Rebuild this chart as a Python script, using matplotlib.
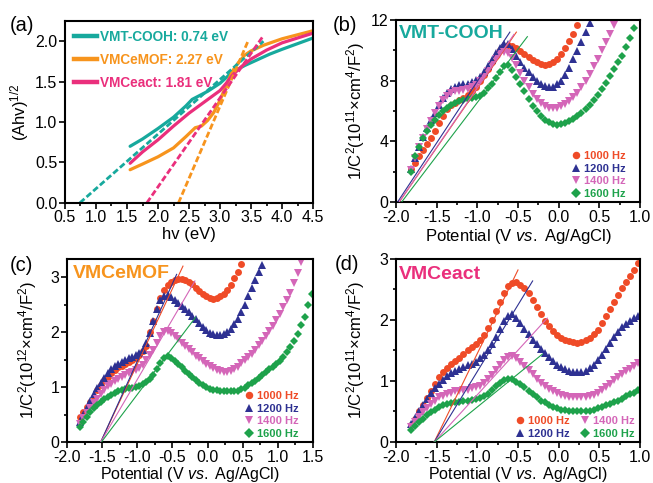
import numpy as np
import matplotlib
matplotlib.use("Agg")
import matplotlib.pyplot as plt
from matplotlib.lines import Line2D
from matplotlib.ticker import MultipleLocator

plt.rcParams['font.family'] = ['Liberation Sans', 'DejaVu Sans']
plt.rcParams['mathtext.fontset'] = 'custom'
plt.rcParams['mathtext.rm'] = 'Liberation Sans'
plt.rcParams['mathtext.it'] = 'Liberation Sans:italic'
plt.rcParams['mathtext.bf'] = 'Liberation Sans:bold'
plt.rcParams['axes.unicode_minus'] = False

# ---------------- panel (a) data ----------------
hv_cooh = [1.55, 1.75, 2.0, 2.25, 2.45, 2.55, 2.65, 2.8, 3.0, 3.2, 3.4, 3.6, 3.8, 4.0, 4.25, 4.5]
ahv_cooh = [0.70, 0.79, 0.92, 1.06, 1.20, 1.28, 1.32, 1.38, 1.48, 1.62, 1.70, 1.77, 1.84, 1.90, 1.97, 2.04]
hv_mof = [1.55, 1.75, 2.0, 2.25, 2.45, 2.6, 2.7, 2.8, 2.9, 3.0, 3.1, 3.2, 3.3, 3.4, 3.5, 3.7, 4.0, 4.25, 4.5]
ahv_mof = [0.41, 0.48, 0.57, 0.68, 0.82, 0.93, 0.95, 1.02, 1.12, 1.27, 1.46, 1.63, 1.74, 1.83, 1.88, 1.95, 2.03, 2.08, 2.13]
hv_act = [1.55, 1.75, 2.0, 2.25, 2.5, 2.75, 3.0, 3.1, 3.2, 3.35, 3.5, 3.75, 4.0, 4.25, 4.5]
ahv_act = [0.49, 0.63, 0.78, 0.95, 1.11, 1.25, 1.39, 1.48, 1.58, 1.69, 1.78, 1.89, 1.98, 2.04, 2.10]
fit_cooh_hv, fit_cooh_y = [0.74, 3.70], [0.0, 2.0]
fit_mof_hv, fit_mof_y = [2.33, 3.45], [0.0, 2.0]
fit_act_hv, fit_act_y = [1.82, 3.70], [0.0, 2.07]
gap_labels = ["VMT-COOH: 0.74 eV", "VMCeMOF: 2.27 eV", "VMCeact: 1.81 eV"]

# ---------------- Mott-Schottky data (potential grid start / step) ----------------
pot_start = -1.82
pot_step = 0.05
freq_labels = ["1000 Hz", "1200 Hz", "1400 Hz", "1600 Hz"]

b_1000 = [2.2, 2.6, 3.0, 3.4, 3.8, 4.2, 4.65, 5.2, 5.7, 6.1, 6.4, 6.55, 6.7, 6.85, 7.05, 7.3, 7.6, 8.0, 8.4, 8.8,
          9.25, 9.65, 10.0, 10.2, 10.35, 10.3, 10.15, 9.95, 9.75, 9.55, 9.35, 9.2, 9.1, 9.05, 9.1, 9.2, 9.4, 9.75,
          10.15, 10.6, 11.1, 11.7]
b_1200 = [2.2, 2.9, 3.6, 4.3, 4.9, 5.4, 5.9, 6.4, 6.85, 7.2, 7.45, 7.6, 7.7, 7.75, 7.8, 7.9, 8.05, 8.25, 8.55, 8.95,
          9.35, 9.8, 10.15, 10.4, 10.4, 10.1, 9.6, 9.2, 8.85, 8.55, 8.25, 8.0, 7.8, 7.65, 7.58, 7.6, 7.75, 8.0, 8.4,
          8.85, 9.4, 9.95, 10.55, 11.2, 11.8]
b_1400 = [2.1, 2.9, 3.6, 4.2, 4.8, 5.35, 5.85, 6.3, 6.7, 7.0, 7.2, 7.3, 7.35, 7.4, 7.45, 7.55, 7.7, 7.95, 8.25, 8.65,
          9.05, 9.45, 9.75, 9.9, 9.85, 9.5, 9.0, 8.5, 8.0, 7.55, 7.15, 6.8, 6.5, 6.3, 6.2, 6.17, 6.2, 6.3, 6.45, 6.65,
          6.9, 7.2, 7.55, 8.0, 8.45, 8.95, 9.45, 10.0, 10.55, 11.1, 11.7]
b_1600 = [2.0, 3.0, 3.6, 4.2, 4.65, 5.1, 5.4, 5.75, 6.0, 6.2, 6.4, 6.55, 6.65, 6.72, 6.78, 6.85, 6.92, 7.0, 7.2, 7.5,
          7.8, 8.2, 8.6, 8.95, 9.0, 8.7, 8.25, 7.8, 7.3, 6.8, 6.35, 6.0, 5.65, 5.4, 5.25, 5.12, 5.08, 5.12, 5.22, 5.35,
          5.5, 5.65, 5.85, 6.1, 6.4, 6.7, 7.05, 7.45, 7.85, 8.3, 8.75, 9.2, 9.65, 10.2, 10.8, 11.5]

c_1000 = [0.45, 0.55, 0.63, 0.72, 0.82, 0.94, 1.04, 1.12, 1.19, 1.25, 1.31, 1.36, 1.39, 1.42, 1.45, 1.49, 1.53, 1.59,
          1.66, 1.75, 2.0, 2.2, 2.42, 2.62, 2.76, 2.85, 2.91, 2.94, 2.96, 2.96, 2.94, 2.91, 2.87, 2.81, 2.75, 2.70,
          2.65, 2.62, 2.61, 2.62, 2.65, 2.70, 2.77, 2.86, 2.98, 3.1, 3.24]
c_1200 = [0.37, 0.5, 0.62, 0.75, 0.87, 0.98, 1.08, 1.17, 1.25, 1.32, 1.38, 1.42, 1.46, 1.49, 1.52, 1.55, 1.58, 1.62,
          1.68, 1.8, 1.98, 2.2, 2.42, 2.58, 2.66, 2.67, 2.63, 2.58, 2.53, 2.48, 2.42, 2.36, 2.3, 2.24, 2.17, 2.1, 2.04,
          1.99, 1.96, 1.94, 1.94, 1.96, 2.0, 2.06, 2.14, 2.24, 2.36, 2.5, 2.65, 2.8, 2.95, 3.1, 3.22]
c_1400 = [0.33, 0.43, 0.53, 0.62, 0.71, 0.79, 0.87, 0.94, 1.01, 1.06, 1.11, 1.15, 1.19, 1.22, 1.25, 1.28, 1.31, 1.35,
          1.41, 1.49, 1.58, 1.68, 1.8, 1.92, 2.0, 2.02, 1.98, 1.93, 1.87, 1.81, 1.75, 1.69, 1.63, 1.57, 1.52, 1.47,
          1.42, 1.38, 1.34, 1.31, 1.29, 1.28, 1.28, 1.3, 1.33, 1.37, 1.43, 1.49, 1.55, 1.61, 1.68, 1.76, 1.84, 1.93,
          2.02, 2.11, 2.22, 2.33, 2.45, 2.58, 2.72, 2.9, 3.07, 3.28]
c_1600 = [0.28, 0.37, 0.46, 0.54, 0.61, 0.68, 0.73, 0.78, 0.82, 0.86, 0.89, 0.92, 0.94, 0.96, 0.98, 0.99, 1.0, 1.02,
          1.05, 1.09, 1.15, 1.22, 1.32, 1.43, 1.52, 1.56, 1.53, 1.48, 1.42, 1.36, 1.3, 1.24, 1.18, 1.12, 1.07, 1.03,
          1.0, 0.97, 0.95, 0.94, 0.93, 0.92, 0.92, 0.92, 0.92, 0.93, 0.96, 0.99, 1.03, 1.07, 1.11, 1.16, 1.21, 1.27,
          1.32, 1.37, 1.42, 1.48, 1.55, 1.63, 1.72, 1.84, 1.97, 2.12, 2.28, 2.5, 2.7]

d_1000 = [0.28, 0.38, 0.5, 0.61, 0.72, 0.84, 0.95, 1.06, 1.15, 1.22, 1.28, 1.33, 1.38, 1.44, 1.5, 1.55, 1.6, 1.67,
          1.76, 1.87, 2.0, 2.15, 2.3, 2.44, 2.55, 2.61, 2.62, 2.58, 2.52, 2.44, 2.33, 2.21, 2.09, 1.99, 1.9, 1.82,
          1.76, 1.71, 1.68, 1.65, 1.64, 1.63, 1.64, 1.67, 1.71, 1.77, 1.84, 1.95, 2.07, 2.18, 2.3, 2.41, 2.52, 2.62,
          2.72, 2.82, 2.93]
d_1200 = [0.3, 0.4, 0.5, 0.6, 0.7, 0.8, 0.88, 0.95, 1.02, 1.09, 1.13, 1.16, 1.2, 1.23, 1.26, 1.28, 1.31, 1.37, 1.43,
          1.5, 1.6, 1.72, 1.86, 1.98, 2.06, 2.09, 2.04, 1.95, 1.86, 1.77, 1.68, 1.6, 1.53, 1.46, 1.39, 1.32, 1.27,
          1.23, 1.19, 1.16, 1.15, 1.15, 1.15, 1.17, 1.21, 1.26, 1.34, 1.43, 1.53, 1.63, 1.72, 1.81, 1.88, 1.94, 1.99,
          2.03, 2.06]
d_1400 = [0.25, 0.33, 0.41, 0.49, 0.56, 0.62, 0.68, 0.73, 0.76, 0.79, 0.81, 0.83, 0.84, 0.85, 0.86, 0.88, 0.9, 0.92,
          0.97, 1.03, 1.1, 1.18, 1.26, 1.35, 1.4, 1.41, 1.37, 1.31, 1.25, 1.18, 1.11, 1.04, 0.97, 0.92, 0.87, 0.83,
          0.8, 0.77, 0.75, 0.74, 0.73, 0.73, 0.73, 0.74, 0.75, 0.77, 0.8, 0.85, 0.9, 0.95, 1.01, 1.06, 1.11, 1.16,
          1.2, 1.25, 1.29]
d_1600 = [0.2, 0.27, 0.33, 0.38, 0.44, 0.49, 0.53, 0.57, 0.6, 0.62, 0.64, 0.65, 0.66, 0.67, 0.68, 0.69, 0.7, 0.72,
          0.75, 0.79, 0.85, 0.91, 0.97, 1.01, 1.03, 1.03, 0.99, 0.95, 0.9, 0.84, 0.78, 0.73, 0.68, 0.65, 0.61, 0.58,
          0.56, 0.53, 0.52, 0.51, 0.5, 0.5, 0.5, 0.5, 0.51, 0.53, 0.55, 0.57, 0.6, 0.62, 0.65, 0.68, 0.71, 0.75, 0.78,
          0.81, 0.85]

# tangent (linear fit) lines: [x0, x1], [y0, y1] per frequency
b_fit_x = [[-1.96, -0.52], [-1.98, -0.60], [-1.96, -0.55], [-1.93, -0.385]]
b_fit_y = [[0, 11.2], [0, 11.2], [0, 11.05], [0, 10.9]]
c_fit_x = [[-1.52, -0.35], [-1.52, -0.44], [-1.52, -0.18], [-1.51, -0.17]]
c_fit_y = [[0, 3.2], [0, 3.05], [0, 2.93], [0, 2.27]]
d_fit_x = [[-1.53, -0.50], [-1.53, -0.32], [-1.53, -0.14], [-1.53, -0.20]]
d_fit_y = [[0, 2.82], [0, 2.64], [0, 2.03], [0, 1.44]]

# ---------------- styles ----------------
c_teal, c_orange, c_pink = '#17a99d', '#f7941d', '#ea2f7c'
f_colors = ['#ef4b27', '#2e3192', '#d466b8', '#1ea24b']
f_markers = ['o', '^', 'v', 'D']
f_ms = [5.0, 5.6, 5.6, 4.5]

fig = plt.figure(figsize=(6.53, 4.83), dpi=100)
axa = fig.add_axes([0.0995, 0.580, 0.380, 0.3765])
axb = fig.add_axes([0.6064, 0.5818, 0.3737, 0.3768])
axc = fig.add_axes([0.1026, 0.0849, 0.3767, 0.3789])
axd = fig.add_axes([0.6064, 0.0849, 0.3737, 0.3789])


def style(ax, xlim, ylim, xmaj, xmin, ymaj, ymin=None):
    ax.set_xlim(xlim)
    ax.set_ylim(ylim)
    ax.xaxis.set_major_locator(MultipleLocator(xmaj))
    ax.xaxis.set_minor_locator(MultipleLocator(xmin))
    ax.yaxis.set_major_locator(MultipleLocator(ymaj))
    if ymin:
        ax.yaxis.set_minor_locator(MultipleLocator(ymin))
    ax.tick_params(which='both', direction='out', top=False, right=False, width=1.2)
    ax.tick_params(axis='x', which='major', length=4, labelsize=11.5, pad=1.5)
    ax.tick_params(axis='y', which='major', length=4, labelsize=11.5, pad=1.5)
    ax.tick_params(which='minor', length=2.5)
    for s in ax.spines.values():
        s.set_linewidth(1.5)


# ---- (a)
for hv, y, c in [(hv_cooh, ahv_cooh, c_teal), (hv_mof, ahv_mof, c_orange), (hv_act, ahv_act, c_pink)]:
    axa.plot(hv, y, color=c, lw=2.3, solid_capstyle='round')
for hv, y, c in [(fit_cooh_hv, fit_cooh_y, c_teal), (fit_mof_hv, fit_mof_y, c_orange), (fit_act_hv, fit_act_y, c_pink)]:
    axa.plot(hv, y, color=c, lw=2.0, ls=(0, (2.2, 1.0)))
style(axa, (0.5, 4.5), (0, 2.25), 0.5, 0.25, 0.5)
axa.set_xlabel('hv (eV)', fontsize=12)
axa.set_ylabel('(Ahv)$^{1/2}$', fontsize=12)
axa.xaxis.set_label_coords(0.5, -0.13)
axa.yaxis.set_label_coords(-0.135, 0.5)
ha = [Line2D([], [], color=c, lw=3.2) for c in (c_teal, c_orange, c_pink)]
leg = axa.legend(ha, gap_labels, loc='upper left', bbox_to_anchor=(0.0, 1.0), frameon=False,
                 prop={'weight': 'bold', 'size': 9.8}, handlelength=1.7, handletextpad=0.2,
                 labelspacing=0.66, borderaxespad=0.3, borderpad=0.35)
for t, c in zip(leg.get_texts(), (c_teal, c_orange, c_pink)):
    t.set_color(c)


def ms_panel(ax, series, fits_x, fits_y, fs=12):
    for vals, c, m, s in zip(series, f_colors, f_markers, f_ms):
        x = [pot_start + pot_step * i for i in range(len(vals))]
        ax.plot(x, vals, ls='none', marker=m, ms=s, color=c, mew=0, zorder=2)
    for fx, fy, c in zip(fits_x, fits_y, f_colors):
        ax.plot(fx, fy, color=c, lw=0.8, zorder=3)
    ax.set_xlabel(r'Potential (V $\it{vs.}$ Ag/AgCl)', fontsize=fs)


ms_panel(axb, [b_1000, b_1200, b_1400, b_1600], b_fit_x, b_fit_y)
style(axb, (-2.0, 1.0), (0, 12), 0.5, 0.25, 4, 2)
axb.set_ylabel('1/C$^2$(10$^{11}$×cm$^4$/F$^2$)', fontsize=12)

ms_panel(axc, [c_1000, c_1200, c_1400, c_1600], c_fit_x, c_fit_y, fs=11.5)
style(axc, (-2.0, 1.5), (0, 3.33), 0.5, 0.25, 1, 0.5)
axc.set_ylabel('1/C$^2$(10$^{12}$×cm$^4$/F$^2$)', fontsize=12)

ms_panel(axd, [d_1000, d_1200, d_1400, d_1600], d_fit_x, d_fit_y, fs=11.5)
style(axd, (-2.0, 1.0), (0, 3), 0.5, 0.25, 1, 0.5)
axd.set_ylabel('1/C$^2$(10$^{11}$×cm$^4$/F$^2$)', fontsize=12)

axb.xaxis.set_label_coords(0.5, -0.135)
axb.yaxis.set_label_coords(-0.12, 0.5)
axd.yaxis.set_label_coords(-0.12, 0.5)
axc.yaxis.set_label_coords(-0.114, 0.5)
# bottom-row x labels: baseline placed just above the lower figure edge
for ax in (axc, axd):
    ax.xaxis.label.set_verticalalignment('baseline')
    ax.xaxis.set_label_coords(0.5, -0.203)

# legends
fh = [Line2D([], [], ls='none', marker=m, ms=s + 0.4, color=c, mew=0) for c, m, s in zip(f_colors, f_markers, f_ms)]
for ax, ncol, anchor in [(axb, 1, (0.955, 0.0)), (axc, 1, (0.955, 0.0)), (axd, 2, (0.99, 0.0))]:
    lg = ax.legend(fh, freq_labels, loc='lower right', bbox_to_anchor=anchor, ncol=ncol, frameon=False,
                   prop={'weight': 'bold', 'size': 8}, handlelength=0.8, handletextpad=0.3,
                   labelspacing=0.22, columnspacing=1.0, borderaxespad=0.15, borderpad=0.15)
    for t, c in zip(lg.get_texts(), f_colors):
        t.set_color(c)

# sample names
axb.text(0.01, 0.925, 'VMT-COOH', transform=axb.transAxes, color=c_teal, fontsize=14,
         fontweight='bold', va='center', ha='left')
axc.text(0.024, 0.923, 'VMCeMOF', transform=axc.transAxes, color=c_orange, fontsize=14,
         fontweight='bold', va='center', ha='left')
axd.text(0.012, 0.913, 'VMCeact', transform=axd.transAxes, color=c_pink, fontsize=14,
         fontweight='bold', va='center', ha='left')

# panel letters
for lab, x, y in [('(a)', 0.015, 0.947), ('(b)', 0.51, 0.947), ('(c)', 0.015, 0.451), ('(d)', 0.513, 0.453)]:
    fig.text(x, y, lab, fontsize=14.5, va='center', ha='left')

fig.savefig('out.png', dpi=100)
